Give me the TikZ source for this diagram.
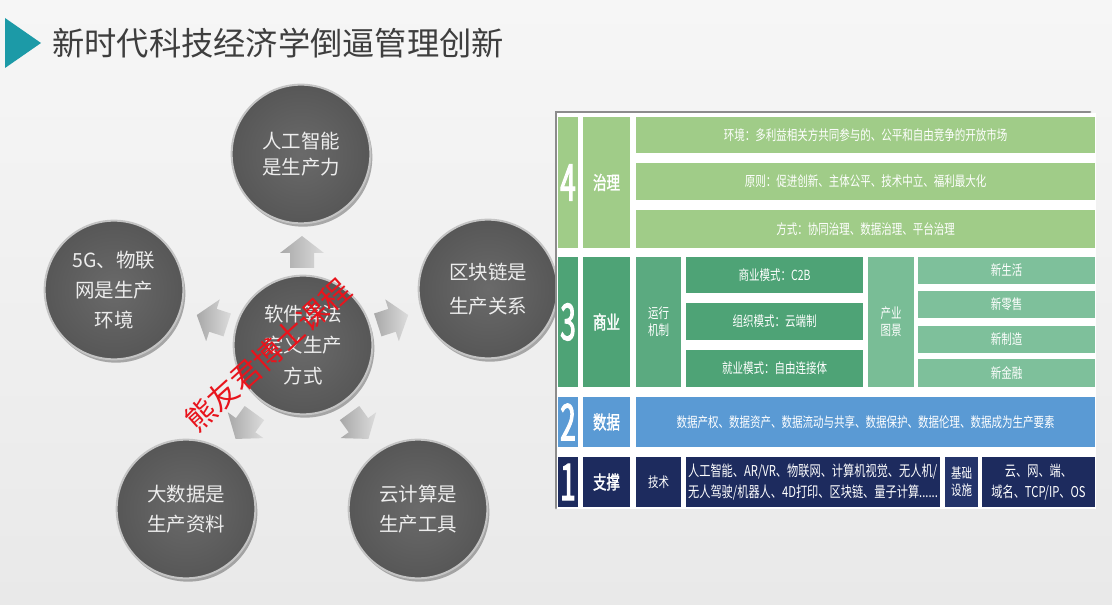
\documentclass[tikz,border=0pt]{standalone}
\usepackage{fontspec}
\setmainfont{Noto Sans CJK SC}
\newfontfamily\cjk{Noto Sans CJK SC}
\newfontfamily\cjkc[FakeStretch=0.75]{Noto Sans CJK SC}
\newfontfamily\cjkcb[FakeStretch=0.72,FakeBold=1.5]{Noto Sans CJK SC}
\newfontfamily\numf[FakeStretch=0.55,FakeBold=2]{Noto Sans CJK SC}
\usetikzlibrary{shadows}
\definecolor{bgt}{HTML}{F6F6F6}
\definecolor{bgb}{HTML}{E9E9E9}
\definecolor{tealc}{HTML}{1C9AA7}
\definecolor{titlec}{HTML}{3E3E3E}
\definecolor{ballin}{HTML}{6A6A6A}
\definecolor{ballout}{HTML}{575757}
\definecolor{ballrim}{HTML}{C4C4C4}
\definecolor{arrl}{HTML}{DCDCDC}
\definecolor{arrd}{HTML}{A8A8A8}
\definecolor{wmred}{HTML}{E8141C}
\definecolor{framec}{HTML}{8C8C8C}
\definecolor{gfour}{HTML}{A0CC88}
\definecolor{gthree}{HTML}{4EA376}
\definecolor{gthreeb}{HTML}{5BAA80}
\definecolor{gthreec}{HTML}{79BD96}
\definecolor{gthreed}{HTML}{7EC09B}
\definecolor{btwo}{HTML}{5A9AD4}
\definecolor{navya}{HTML}{1D2B5E}
\definecolor{navyb}{HTML}{24346A}
\newcommand{\tcell}[7]{%
  \pgfmathsetmacro{\tcellw}{(#4-#2)*0.75}%
  \pgfmathsetmacro{\tcellh}{(#5-#3)*0.75}%
  \node[cellbase,#6,minimum width=\tcellw pt,minimum height=\tcellh pt] (#1) at ({(#2+#4)/2},{(#3+#5)/2}) {#7};}
\newcommand{\blockarrow}[3]{%
  \shade[blkarrow, shift={(#1,#2)}, rotate=#3]
    (-16,-12) -- (-1,-12) -- (-1,-22) -- (16,0) -- (-1,22) -- (-1,12) -- (-16,12) -- cycle;}
\tikzset{
  ball/.style={circle, minimum size=104pt, inner sep=0pt, shading=radial,
    inner color=ballin, outer color=ballout, draw=ballrim, line width=1.5pt,
    text=white!93!black, align=center, font=\cjk\fontsize{14.6}{22.5}\selectfont,
    drop shadow={shadow xshift=1.5pt, shadow yshift=-2.5pt, opacity=0.3, fill=black}},
  blkarrow/.style={left color=arrd, right color=arrl},
  cellbase/.style={rectangle, inner sep=0pt, text=white, align=center, draw=none,
    font=\cjkc\fontsize{10.5}{13}\selectfont},
  numc/.style={font=\numf\fontsize{38}{38}\selectfont},
  labc/.style={font=\cjkcb\fontsize{14}{16}\selectfont},
}
\begin{document}
\begin{tikzpicture}[x=0.75pt,y=-0.75pt]
\useasboundingbox (0,0) rectangle (1112,605);
\shade[top color=bgt, bottom color=bgb] (0,0) rectangle (1112,605);
% title
\fill[tealc] (5,18) -- (41,43) -- (5,68) -- cycle;
\node[anchor=west, inner sep=0pt, text=titlec, font=\cjk\fontsize{24.2}{26}\selectfont] (title) at (52,43) {新时代科技经济学倒逼管理创新};
% circles
\node[ball, font=\cjk\fontsize{14.6}{20}\selectfont] (top) at (301,154) {人工智能\\是生产力};
\node[ball] (left) at (114,290) {5G、物联\\网是生产\\环境};
\node[ball, font=\cjk\fontsize{14.6}{25}\selectfont] (right) at (488,289) {区块链是\\生产关系};
\node[ball] (bl) at (186,509) {大数据是\\生产资料};
\node[ball] (br) at (418,509) {云计算是\\生产工具};
\node[ball, font=\cjk\fontsize{14.6}{23}\selectfont] (ctr) at (303,345) {软件算法\\定义生产\\方式};
% block arrows
\blockarrow{302}{252}{90}
\blockarrow{212}{320}{162}
\blockarrow{393}{320}{18}
\blockarrow{245}{426}{234}
\blockarrow{359}{426}{306}
% table frame
\fill[white] (557,113) rectangle (1096,509);
\draw[framec, line width=2.2pt, line cap=round] (556,508) -- (556,112) -- (1090,112);
% row 4
\tcell{n4}{558}{117}{578}{248}{fill=gfour,numc}{4}
\tcell{l4}{583}{117}{630}{248}{fill=gfour,labc}{治理}
\tcell{r4a}{636}{117}{1095}{153}{fill=gfour}{环境：多利益相关方共同参与的、公平和自由竞争的开放市场}
\tcell{r4b}{636}{163}{1095}{200}{fill=gfour}{原则：促进创新、主体公平、技术中立、福利最大化}
\tcell{r4c}{636}{210}{1095}{248}{fill=gfour}{方式：协同治理、数据治理、平台治理}
% row 3
\tcell{n3}{558}{257}{578}{387}{fill=gthree,numc}{3}
\tcell{l3}{583}{257}{630}{387}{fill=gthree,labc}{商业}
\tcell{y3}{636}{257}{681}{387}{fill=gthreeb}{运行\\机制}
\tcell{m1}{686}{257}{863}{293}{fill=gthree}{商业模式：C2B}
\tcell{m2}{686}{303}{863}{340}{fill=gthree}{组织模式：云端制}
\tcell{m3}{686}{350}{863}{387}{fill=gthree}{就业模式：自由连接体}
\tcell{p3}{868}{257}{914}{387}{fill=gthreec}{产业\\图景}
\tcell{s1}{918}{257}{1095}{284}{fill=gthreed}{新生活}
\tcell{s2}{918}{291}{1095}{318}{fill=gthreed}{新零售}
\tcell{s3}{918}{326}{1095}{353}{fill=gthreed}{新制造}
\tcell{s4}{918}{359}{1095}{387}{fill=gthreed}{新金融}
% row 2
\tcell{n2}{558}{397}{578}{447}{fill=btwo,numc}{2}
\tcell{l2}{583}{397}{630}{447}{fill=btwo,labc}{数据}
\tcell{d2}{636}{397}{1095}{447}{fill=btwo}{数据产权、数据资产、数据流动与共享、数据保护、数据伦理、数据成为生产要素}
% row 1
\tcell{n1}{558}{457}{578}{507}{fill=navya,numc}{1}
\tcell{l1}{583}{457}{630}{507}{fill=navya,labc}{支撑}
\tcell{t1}{636}{457}{681}{507}{fill=navya}{技术}
\tcell{c1}{686}{457}{940}{507}{fill=navya,align=left,font=\cjkc\fontsize{11.2}{16}\selectfont}{人工智能、AR/VR、物联网、计算机视觉、无人机/\\无人驾驶/机器人、4D打印、区块链、量子计算......}
\tcell{b1}{945}{457}{978}{507}{fill=navyb}{基础\\设施}
\tcell{e1}{982}{457}{1095}{507}{fill=navya,font=\cjkc\fontsize{11.2}{16}\selectfont}{云、网、端、\\域名、TCP/IP、OS}
% watermark
\node[rotate=42, text=wmred, inner sep=0pt, font=\cjk\fontsize{22.5}{23}\selectfont] (wm) at (268,355) {熊友君博士课程};
\end{tikzpicture}
\end{document}
